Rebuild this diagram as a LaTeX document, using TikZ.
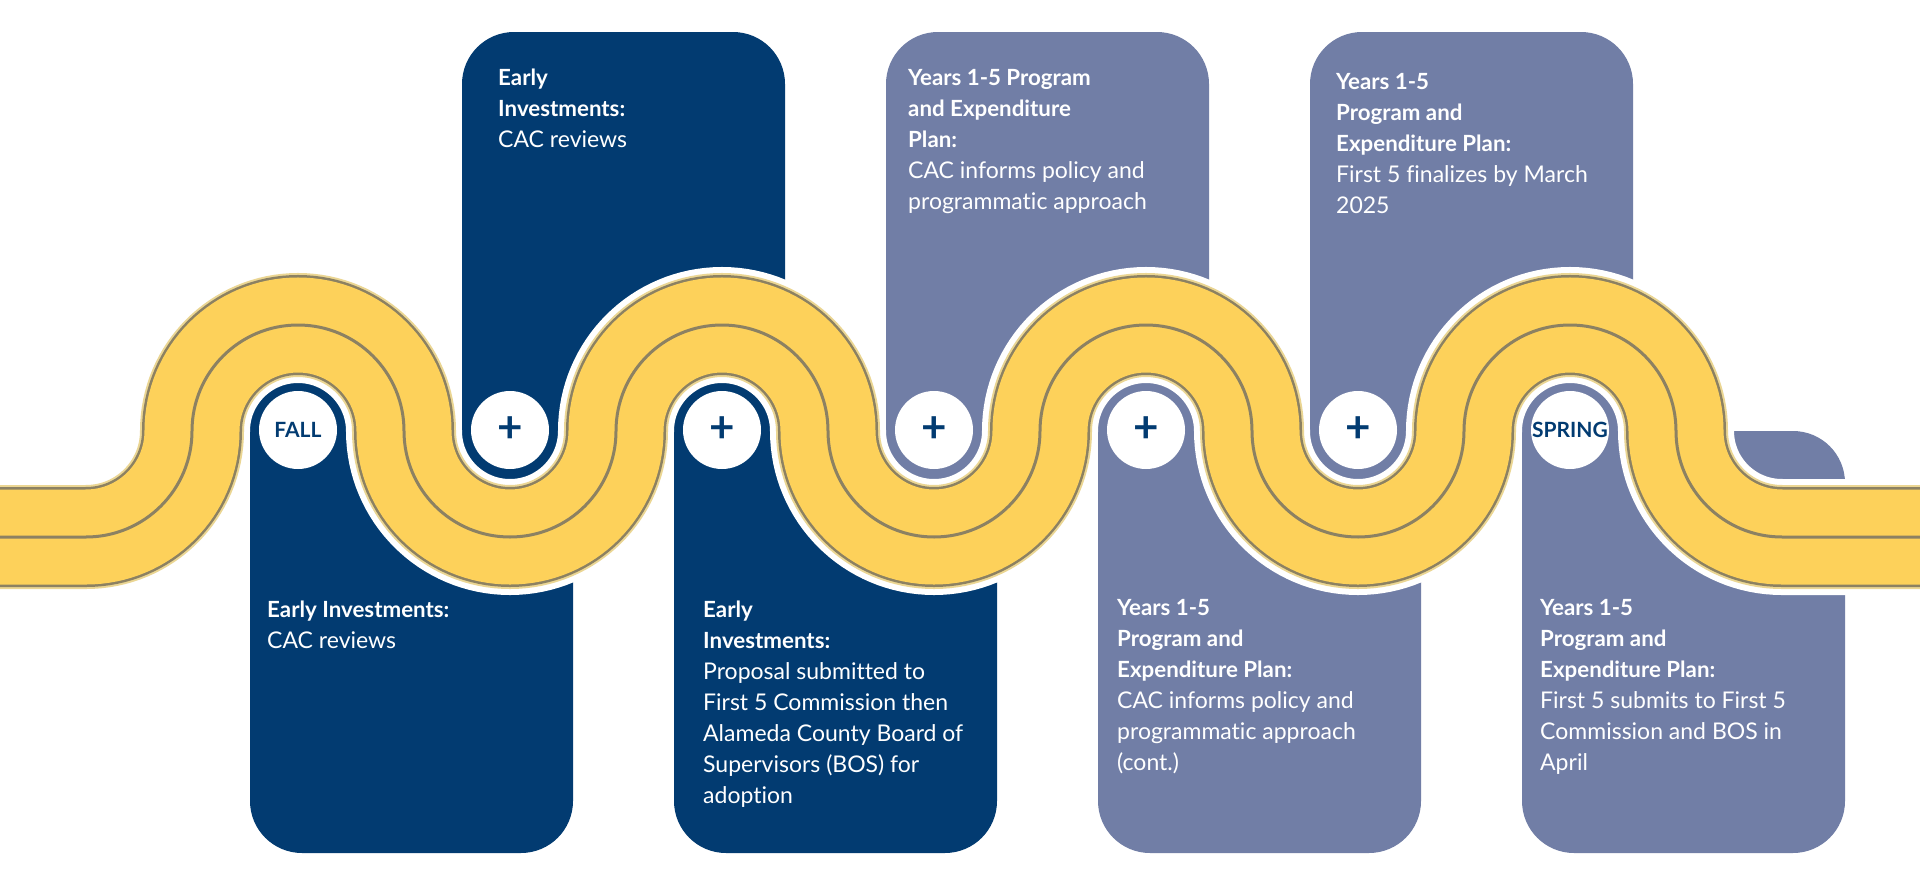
\documentclass[tikz,border=0pt]{standalone}
\usepackage{fontspec}
\setmainfont{Lato}[Ligatures=NoCommon]
\definecolor{navy}{HTML}{023B71}
\definecolor{slate}{HTML}{717EA6}
\definecolor{roadfill}{HTML}{FDD15A}
\definecolor{roadline}{HTML}{8C8162}
\definecolor{roadedge}{HTML}{EBD693}
\newcommand{\head}[1]{{\fontsize{22.3}{31}\selectfont\bfseries #1}}
\newcommand{\roadpath}{(-20,537) -- (86,537) arc[start angle=90, end angle=0, radius=106]
  arc[start angle=180, end angle=360, radius=106] arc[start angle=180, end angle=0, radius=106]
  arc[start angle=180, end angle=360, radius=106] arc[start angle=180, end angle=0, radius=106]
  arc[start angle=180, end angle=360, radius=106] arc[start angle=180, end angle=0, radius=106]
  arc[start angle=180, end angle=360, radius=106] arc[start angle=180, end angle=90, radius=106]
  -- (1940,537)}
\begin{document}
\begin{tikzpicture}[x=1pt, y=-1pt,
  boxtext/.style={anchor=north west, inner sep=0pt, align=left, text=white, font=\fontsize{23}{31}\selectfont},
  stop/.style={circle, fill=white, minimum size=78pt, inner sep=0pt, text=navy, font=\fontsize{21}{21}\selectfont\bfseries},
  plus/.style={stop, font=\fontsize{44}{44}\selectfont\bfseries}]
\useasboundingbox (0,0) rectangle (1920,878);
\clip (0,0) rectangle (1920,878);
\fill[white] (0,0) rectangle (1920,878);
\fill[navy, rounded corners=52pt] (250,431) rectangle (573,853);
\fill[navy] (250,370) rectangle (348,480);
\fill[navy, rounded corners=52pt] (462,32) rectangle (785,431);
\fill[navy] (462,380) rectangle (566,500);
\fill[navy, rounded corners=52pt] (674,431) rectangle (997,853);
\fill[navy] (674,370) rectangle (772,480);
\fill[slate, rounded corners=52pt] (886,32) rectangle (1209,431);
\fill[slate] (886,380) rectangle (990,500);
\fill[slate, rounded corners=52pt] (1098,431) rectangle (1421,853);
\fill[slate] (1098,370) rectangle (1196,480);
\fill[slate, rounded corners=52pt] (1310,32) rectangle (1633,431);
\fill[slate] (1310,380) rectangle (1414,500);
\fill[slate, rounded corners=52pt] (1522,431) rectangle (1845,853);
\fill[slate] (1522,370) rectangle (1620,480);
\draw[white, line width=116pt] \roadpath;
\draw[roadedge, line width=104pt] \roadpath;
\draw[roadline, line width=100pt] \roadpath;
\draw[roadfill, line width=95pt] \roadpath;
\draw[roadline, line width=3pt] \roadpath;
\node[stop] (fall) at (298,430) {\makebox[0pt]{FALL}};
\node[plus] (p1) at (510,430) {\makebox[0pt]{+}};
\node[plus] (p2) at (722,430) {\makebox[0pt]{+}};
\node[plus] (p3) at (934,430) {\makebox[0pt]{+}};
\node[plus] (p4) at (1146,430) {\makebox[0pt]{+}};
\node[plus] (p5) at (1358,430) {\makebox[0pt]{+}};
\node[stop] (spring) at (1570,430) {\makebox[0pt]{SPRING}};
\node[boxtext] (txt0) at (267,601) {\head{Early Investments:}\\CAC reviews};
\node[boxtext] (txt1) at (498,69) {\head{Early}\\\head{Investments:}\\CAC reviews};
\node[boxtext] (txt2) at (703,601) {\head{Early}\\\head{Investments:}\\Proposal submitted to\\First 5 Commission then\\Alameda County Board of\\Supervisors (BOS) for\\adoption};
\node[boxtext] (txt3) at (908,69) {\head{Years 1-5 Program}\\\head{and Expenditure}\\\head{Plan:}\\CAC informs policy and\\programmatic approach};
\node[boxtext] (txt4) at (1117,599) {\head{Years 1-5}\\\head{Program and}\\\head{Expenditure Plan:}\\CAC informs policy and\\programmatic approach\\(cont.)};
\node[boxtext] (txt5) at (1336,73) {\head{Years 1-5}\\\head{Program and}\\\head{Expenditure Plan:}\\First 5 finalizes by March\\2025};
\node[boxtext] (txt6) at (1540,599) {\head{Years 1-5}\\\head{Program and}\\\head{Expenditure Plan:}\\First 5 submits to First 5\\Commission and BOS in\\April};
\end{tikzpicture}
\end{document}
